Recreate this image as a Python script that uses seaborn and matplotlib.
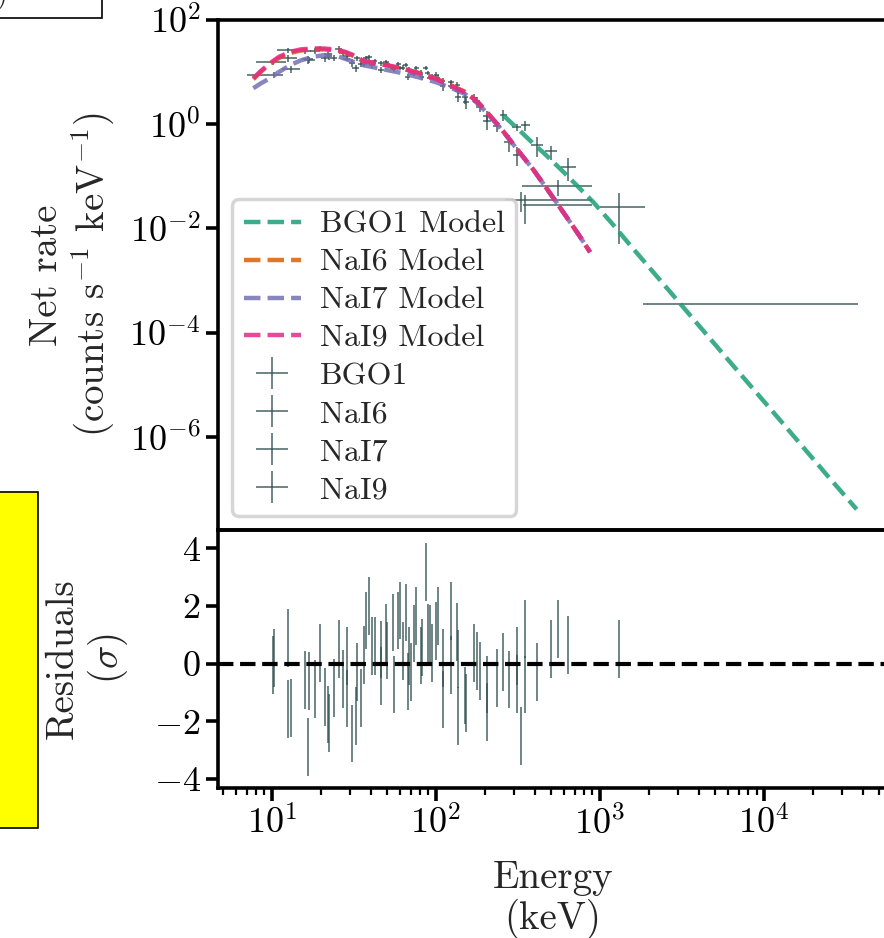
import numpy as np
import matplotlib
matplotlib.use("Agg")
import matplotlib.pyplot as plt
from matplotlib.patches import Rectangle
from matplotlib.ticker import NullLocator, LogLocator, FixedLocator, FuncFormatter
import seaborn as sns

# ---------------- folded model curves (counts s^-1 keV^-1) ----------------
nai_model_energy = [7.7, 8.5, 9.7, 11, 12.9, 15, 17.9, 21, 24.8, 28, 31.3, 36, 42, 50, 62,
                    80, 100, 127, 150, 169, 185, 204, 240, 270, 320, 395, 480, 625, 750, 870]
nai6_model = [7.3, 10.0, 14.2, 18.6, 23.2, 26.0, 27.3, 27.2, 26.0, 23.8, 20.6, 16.2, 14.8, 13.5, 11.8,
              9.5, 7.5, 5.35, 4.2, 3.15, 2.45, 1.72, 0.96, 0.6, 0.3, 0.13, 0.055, 0.0166, 0.0072, 0.0035]
nai7_model = [4.9, 6.0, 7.6, 10.0, 13.6, 16.8, 19.8, 21.2, 20.5, 18.0, 15.8, 13.6, 12.3, 11.0, 9.6,
              7.8, 6.4, 4.8, 3.8, 2.95, 2.3, 1.65, 0.93, 0.59, 0.3, 0.13, 0.055, 0.0166, 0.0072, 0.0035]
nai9_model = [7.6, 10.3, 14.7, 19.5, 24.5, 27.3, 28.5, 28.3, 27.0, 24.5, 21.2, 16.5, 15.0, 13.6, 11.8,
              9.4, 7.4, 5.25, 4.1, 3.1, 2.4, 1.7, 0.95, 0.6, 0.3, 0.13, 0.055, 0.0166, 0.0072, 0.0035]

bgo1_model_energy = [257, 300, 340, 400, 450, 510, 570, 640, 720, 810, 909, 1200, 1500,
                     3000, 6000, 12000, 24000, 36700]
bgo1_model = [1.49, 0.94, 0.653, 0.40, 0.288, 0.198, 0.141, 0.0986, 0.0676, 0.0463, 0.0321,
              0.01186, 5.1e-3, 3.98e-4, 3.09e-5, 2.45e-6, 1.9e-7, 4.07e-8]

# ---------------- binned count spectra ----------------
bgo1_energy = [257.0, 310.0, 350.0, 415.0, 505.0, 640.0, 1310.0, 8300.0]
bgo1_elo = [246.0, 292.0, 330.0, 380.0, 460.0, 575.0, 1000.0, 1840.0]
bgo1_ehi = [270.0, 330.0, 372.0, 450.0, 550.0, 715.0, 1880.0, 37400.0]
bgo1_rate = [1.5, 0.88, 0.95, 0.40, 0.30, 0.15, 0.026, 3.5e-4]
bgo1_err = [0.35, 0.15, 0.2, 0.17, 0.09, 0.07, 0.021, 0.0]
bgo1_resid = [0.06, 0.26, 1.21, -0.3, 0.5, 0.65, 0.5, np.nan]

nai6_energy = [10.1, 12.6, 16.6, 19.6, 22.2, 27.0, 30.7, 35.0, 39.0, 46.2, 50.4, 58.8, 65.6, 70.6,
               80.5, 88.8, 100.4, 110.0, 135.0, 150.0, 178.0, 205.0, 313.0, 330.0]
nai6_elo = [8.0, 11.0, 15.3, 18.4, 21.1, 25.7, 29.3, 33.5, 37.4, 44.4, 48.5, 56.7, 63.3, 68.2,
            77.8, 85.9, 96.9, 106.0, 130.0, 144.0, 170.0, 194.0, 295.0, 263.0]
nai6_ehi = [12.2, 14.2, 17.9, 20.8, 23.3, 28.3, 32.1, 36.5, 40.6, 48.0, 52.3, 60.9, 67.9, 73.0,
            83.2, 91.7, 103.9, 114.0, 140.0, 156.0, 186.0, 216.0, 331.0, 900.0]
nai6_rate = [15.4, 18.4, 17.5, 28.5, 20.2, 22.9, 15.1, 14.6, 19.1, 14.9, 14.1, 14.4, 13.7, 10.2,
             9.8, 9.7, 8.8, 5.4, 5.7, 3.3, 2.8, 1.13, 0.26, 0.035]
nai6_err = [1.9, 2.7, 3.2, 3.3, 3.2, 2.9, 2.5, 2.0, 1.85, 1.7, 1.6, 1.46, 1.36, 1.27,
            1.13, 1.03, 1.1, 1.0, 0.74, 0.84, 0.55, 0.34, 0.1, 0.014]
nai6_resid = [-0.06, -1.57, -2.88, 0.38, -2.05, -0.54, -2.42, -1.18, 2.0, 0.49, 0.45, 1.49, 1.77, -0.3,
              0.28, 1.07, 1.13, -1.24, 1.1, -1.1, 0.1, -1.68, -0.71, -2.51]

nai7_energy = [10.3, 13.1, 16.9, 21.1, 23.8, 28.5, 32.4, 36.2, 41.0, 46.2, 54.4, 60.0, 67.2, 73.5,
               82.0, 91.7, 103.0, 123.0, 137.0, 153.0, 185.0, 235.0, 350.0]
nai7_elo = [7.0, 11.5, 15.6, 19.9, 22.6, 27.1, 30.9, 34.6, 39.3, 44.4, 52.3, 57.8, 64.9, 71.0,
            79.3, 88.7, 99.5, 118.0, 131.0, 146.0, 176.0, 222.0, 340.0]
nai7_ehi = [11.6, 14.8, 18.2, 22.3, 25.0, 29.9, 33.9, 37.8, 42.7, 48.0, 56.5, 62.2, 69.5, 76.0,
            84.7, 94.7, 106.5, 128.0, 143.0, 160.0, 194.0, 248.0, 900.0]
nai7_rate = [8.9, 11.3, 17.4, 18.3, 18.7, 18.1, 12.0, 14.1, 13.4, 11.0, 12.2, 12.0, 8.2, 9.3,
             8.1, 7.8, 7.7, 6.4, 4.4, 2.66, 2.18, 0.92, 0.028]
nai7_err = [1.04, 1.67, 2.26, 2.5, 2.5, 2.1, 1.84, 1.63, 1.5, 1.4, 1.25, 1.18, 1.07, 1.0,
            0.91, 0.83, 0.93, 0.75, 0.65, 0.73, 0.46, 0.2, 0.016]
nai7_resid = [0.2, -1.53, -0.6, -1.16, -0.84, 0.26, -1.82, 0.3, 0.62, -0.43, 1.42, 1.84, -0.62, 1.04,
              0.56, 1.03, 1.66, 1.83, 0.15, -1.36, -0.26, -0.5, -0.72]

nai9_energy = [12.6, 16.0, 18.3, 22.0, 25.5, 28.5, 33.0, 37.6, 42.3, 49.5, 55.2, 63.0, 68.6, 76.0,
               86.7, 94.5, 110.0, 123.0, 137.0, 171.0, 205.0, 277.0, 555.0]
nai9_elo = [10.8, 14.8, 17.0, 20.8, 24.2, 27.1, 31.5, 36.0, 40.6, 47.6, 53.2, 60.8, 66.3, 73.5,
            83.8, 91.4, 106.0, 118.0, 131.0, 163.0, 194.0, 260.0, 335.0]
nai9_ehi = [14.6, 17.2, 19.6, 23.2, 26.8, 29.9, 34.5, 39.2, 44.0, 51.4, 57.2, 65.2, 70.9, 78.5,
            89.6, 97.6, 114.0, 128.0, 143.0, 179.0, 216.0, 295.0, 900.0]
nai9_rate = [26.3, 25.9, 25.5, 22.1, 28.1, 20.5, 18.5, 18.9, 16.1, 15.5, 11.5, 12.2, 11.1, 11.9,
             12.0, 8.3, 6.7, 5.5, 3.4, 3.2, 1.44, 0.46, 0.064]
nai9_err = [2.86, 3.3, 3.4, 3.4, 3.2, 2.9, 2.3, 1.9, 1.8, 1.64, 1.5, 1.4, 1.3, 1.19,
            1.04, 0.95, 0.98, 0.83, 0.7, 0.6, 0.34, 0.17, 0.022]
nai9_resid = [0.88, -0.56, -0.88, -1.76, 0.5, -1.21, -0.3, 1.49, 0.6, 1.07, -0.72, 0.43, 0.26, 1.66,
              3.17, 0.38, 0.2, -0.04, -1.82, 0.38, -0.72, -0.55, 1.2]

rate_ticks = [1e-6, 1e-4, 1e-2, 1, 1e2]
resid_ticks = [-4, -2, 0, 2, 4]

# ---------------- style ----------------
sns.set_theme(style="ticks")
plt.rcParams.update({
    "font.family": ["cmr10", "DejaVu Serif"],
    "mathtext.fontset": "cm",
    "axes.formatter.use_mathtext": True,
    "axes.unicode_minus": True,
    "axes.linewidth": 2.6,
    "axes.edgecolor": "black",
    "xtick.major.width": 2.6, "xtick.major.size": 9,
    "xtick.minor.width": 1.6, "xtick.minor.size": 5,
    "ytick.major.width": 2.6, "ytick.major.size": 9,
    "ytick.minor.width": 1.6, "ytick.minor.size": 5,
    "xtick.color": "black", "ytick.color": "black",
    "xtick.labelsize": 26, "ytick.labelsize": 26,
})

palette = sns.color_palette("Dark2", 4)
data_color = "darkslategray"

W, H = 884, 938
fig = plt.figure(figsize=(W / 100, H / 100), dpi=100)

# annotation boxes at the figure margins (drawn beneath the axes)
fig.patches.append(Rectangle((-0.2, 1 - 18 / H), 0.2 + 102 / W, 0.2,
                             transform=fig.transFigure, facecolor="white",
                             edgecolor="black", linewidth=1.2, zorder=-1))
fig.patches.append(Rectangle((-0.05, 1 - 828 / H), 0.05 + 38 / W, (828 - 492) / H,
                             transform=fig.transFigure, facecolor="yellow",
                             edgecolor="black", linewidth=1.2, zorder=-1))
fig.text(8 / W, 1 - 3 / H, "Spectral fit (GBM)", ha="right", va="baseline", fontsize=20)

x0, x1 = 218, 888
ax = fig.add_axes([x0 / W, 1 - 530 / H, (x1 - x0) / W, (530 - 20) / H])
axr = fig.add_axes([x0 / W, 1 - 788 / H, (x1 - x0) / W, (788 - 530) / H], sharex=ax)
ax.patch.set_alpha(0)
axr.patch.set_alpha(0)

# model curves
model_sets = [
    (bgo1_model_energy, bgo1_model, palette[0], "BGO1 Model"),
    (nai_model_energy, nai6_model, palette[1], "NaI6 Model"),
    (nai_model_energy, nai7_model, palette[2], "NaI7 Model"),
    (nai_model_energy, nai9_model, palette[3], "NaI9 Model"),
]
for xe, ye, col, lab in model_sets:
    sns.lineplot(x=xe, y=ye, ax=ax, color=col, linestyle="--", linewidth=3.2,
                 alpha=0.85, label=lab, zorder=3, sort=False)

# binned data with energy-bin and count-rate error bars
data_sets = [
    (bgo1_energy, bgo1_elo, bgo1_ehi, bgo1_rate, bgo1_err, bgo1_resid, "BGO1"),
    (nai6_energy, nai6_elo, nai6_ehi, nai6_rate, nai6_err, nai6_resid, "NaI6"),
    (nai7_energy, nai7_elo, nai7_ehi, nai7_rate, nai7_err, nai7_resid, "NaI7"),
    (nai9_energy, nai9_elo, nai9_ehi, nai9_rate, nai9_err, nai9_resid, "NaI9"),
]
for e, lo, hi, r, er, res, lab in data_sets:
    e = np.asarray(e)
    xerr = [e - np.asarray(lo), np.asarray(hi) - e]
    ax.errorbar(e, r, xerr=xerr, yerr=er, fmt="none", ecolor=data_color,
                elinewidth=1.3, alpha=0.75, label=lab, zorder=2)
    axr.errorbar(e, res, yerr=np.ones(len(e)), fmt="none", ecolor=data_color,
                 elinewidth=1.3, alpha=0.75, zorder=2)

axr.axhline(0, color="black", linestyle="--", linewidth=3.0, zorder=3)

# axes scales and limits
ax.set_xscale("log")
ax.set_yscale("log")
ax.set_xlim(4.69, 5.7e4)
ax.set_ylim(1.63e-8, 100)
axr.set_ylim(-4.31, 4.63)

pow10 = FuncFormatter(lambda v, pos: "$10^{%d}$" % int(round(np.log10(v))))
ax.yaxis.set_major_locator(FixedLocator(rate_ticks))
ax.yaxis.set_major_formatter(pow10)
ax.yaxis.set_minor_locator(NullLocator())
ax.tick_params(axis="x", which="both", bottom=False, labelbottom=False)
axr.yaxis.set_major_locator(FixedLocator(resid_ticks))
axr.yaxis.set_major_formatter(FuncFormatter(lambda v, pos: "$%d$" % int(round(v))))
axr.xaxis.set_major_locator(LogLocator(base=10, numticks=12))
axr.xaxis.set_major_formatter(pow10)
axr.xaxis.set_minor_locator(LogLocator(base=10, subs=np.arange(2, 10), numticks=12))

for a in (ax, axr):
    for s in a.spines.values():
        s.set_linewidth(2.6)

ax.set_ylabel("Net rate\n(counts s$^{-1}$ keV$^{-1}$)", fontsize=28, labelpad=9,
              linespacing=1.15)
axr.set_ylabel("Residuals\n($\\sigma$)", fontsize=28, labelpad=17, linespacing=1.15)
axr.set_xlabel("Energy\n(keV)", fontsize=28, labelpad=14, linespacing=1.1)
ax.set_xlabel("")

leg = ax.legend(loc="lower left", fontsize=23, frameon=True, fancybox=True,
                framealpha=0.8, edgecolor="#cccccc", handlelength=1.8,
                labelspacing=0.3, handletextpad=0.6, borderpad=0.35,
                borderaxespad=0.45)
leg.get_frame().set_linewidth(2.5)

fig.savefig("out.png", dpi=100)
